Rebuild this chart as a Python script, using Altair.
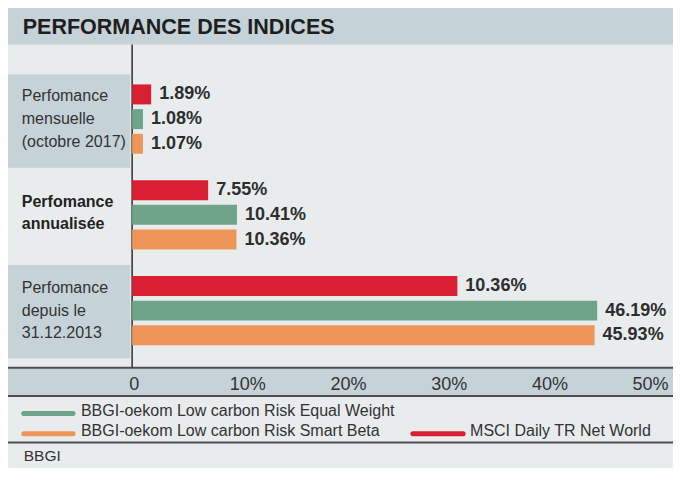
import altair as alt
import pandas as pd

# ---------------- data ----------------
group_keys = ["mensuelle", "annualisee", "depuis"]
group_texts = ["Perfomance\nmensuelle\n(octobre 2017)", "Perfomance\nannualisée", "Perfomance\ndepuis le\n31.12.2013"]
group_bold = [False, True, False]

series = ["MSCI Daily TR Net World",
          "BBGI-oekom Low carbon Risk Equal Weight",
          "BBGI-oekom Low carbon Risk Smart Beta"]
series_colors = ["#d81f33", "#6fa38a", "#ee955a"]

# bar lengths (as drawn) and printed labels
msci_values = [1.89, 7.55, 32.3]
msci_labels = ["1.89%", "7.55%", "10.36%"]
equal_values = [1.08, 10.41, 46.19]
equal_labels = ["1.08%", "10.41%", "46.19%"]
smart_values = [1.07, 10.36, 45.93]
smart_labels = ["1.07%", "10.36%", "45.93%"]

tick_values = [0, 10, 20, 30, 40, 50]
tick_labels = ["0", "10%", "20%", "30%", "40%", "50%"]

title_text = "PERFORMANCE DES INDICES"
source_text = "BBGI"

# ---------------- layout helpers ----------------
W, H = 665, 460
SX = W / 675.0
SY = H / 478.0


def X(r):
    return (r - 6) * SX


def Y(r):
    return (r - 2) * SY


PX_PER_PCT = 10.22
X_DOMAIN = [(6 - 132) / PX_PER_PCT, (681 - 132) / PX_PER_PCT]
xscale = alt.Scale(domain=X_DOMAIN, range=[0, W], nice=False, zero=False)

GROUP_SCALE = dict(domain=group_keys, range=[Y(67.7), Y(366.2)], paddingInner=0.276, paddingOuter=0.138)
OFFSET_SCALE = dict(domain=series, paddingInner=0.191, paddingOuter=0)

BG = "#e8eced"
BAND = "#c5d2d7"
LINE = "#4d4f50"
TXT = "#2e2e2e"
SANS = "Liberation Sans, Arial, sans-serif"
LH = 23.5 * SY

# ---------------- tables ----------------
rows = []
for s, vals, labs in [(series[0], msci_values, msci_labels),
                      (series[1], equal_values, equal_labels),
                      (series[2], smart_values, smart_labels)]:
    for g, v, l in zip(group_keys, vals, labs):
        rows.append({"group": g, "series": s, "value": v, "label": l})
bars_df = pd.DataFrame(rows)
groups_df = pd.DataFrame({"group": group_keys, "text": group_texts, "bold": group_bold})
ticks_df = pd.DataFrame({"tick": tick_values, "label": tick_labels})
one = pd.DataFrame({"k": [0]})

y_group = alt.Y("group:N", scale=alt.Scale(**GROUP_SCALE), axis=None)
y_off = alt.YOffset("series:N", scale=alt.Scale(**OFFSET_SCALE))

# ---------------- layers ----------------
title_band = alt.Chart(one).mark_rect(fill=BAND).encode(
    x=alt.value(0), x2=alt.value(W), y=alt.value(0), y2=alt.value(Y(40)))
title = alt.Chart(one).mark_text(text=title_text, align="left", baseline="alphabetic",
                                 font=SANS, fontWeight="bold", fontSize=21.5, color="#1e1e1e").encode(
    x=alt.value(X(21)), y=alt.value(Y(29.5)))

boxes = alt.Chart(groups_df).transform_filter("datum.group != 'annualisee'").mark_rect(fill=BAND).encode(
    x=alt.value(0), x2=alt.value(X(130)),
    y=alt.Y("group:N", scale=alt.Scale(domain=group_keys, range=[Y(71), Y(366)],
                                       paddingInner=0.02, paddingOuter=0), axis=None))

# three-line labels (normal weight) and two-line label (bold), centred on the group
cat_normal = alt.Chart(groups_df).transform_filter("!datum.bold").mark_text(
    align="left", baseline="middle", lineBreak="\n", lineHeight=LH, dy=-LH, font=SANS,
    fontSize=16, color="#333333").encode(x=alt.value(X(20)), y=y_group, text="text:N")
cat_bold = alt.Chart(groups_df).transform_filter("datum.bold").mark_text(
    align="left", baseline="middle", lineBreak="\n", lineHeight=LH, dy=-LH / 2 - 2, font=SANS,
    fontWeight="bold", fontSize=16, color="#222222").encode(x=alt.value(X(20)), y=y_group, text="text:N")

bars = alt.Chart(bars_df).mark_bar(cornerRadius=0).encode(
    x=alt.X("value:Q", scale=xscale, axis=None),
    y=y_group, yOffset=y_off,
    color=alt.Color("series:N", scale=alt.Scale(domain=series, range=series_colors), legend=None))

values = alt.Chart(bars_df).mark_text(align="left", baseline="middle", dx=8, font=SANS,
                                      fontWeight="bold", fontSize=18, color=TXT).encode(
    x=alt.X("value:Q", scale=xscale, axis=None), y=y_group, yOffset=y_off, text="label:N")

axis_line = alt.Chart(one).mark_rule(stroke="#2f2f2f", strokeWidth=1.5).encode(
    x=alt.X(datum=0, type="quantitative", scale=xscale, axis=None),
    y=alt.value(Y(40)), y2=alt.value(Y(375.5)))

axis_band = alt.Chart(one).mark_rect(fill=BAND).encode(
    x=alt.value(0), x2=alt.value(W), y=alt.value(Y(376)), y2=alt.value(Y(405)))
hlines = []
for ry in [375.8, 405.3, 453.5]:
    hlines.append(alt.Chart(one).mark_rule(stroke=LINE, strokeWidth=2).encode(
        x=alt.value(0), x2=alt.value(W), y=alt.value(Y(ry))))

ticks = alt.Chart(ticks_df).mark_text(align="left", baseline="alphabetic", dx=-3, font=SANS,
                                      fontSize=18, color="#333333").encode(
    x=alt.X("tick:Q", scale=xscale, axis=None), y=alt.value(Y(399)), text="label:N")

# legend (manual, two rows like the original)
legend_layers = []
legend_pos = [  # (series index, swatch x0, swatch x1, swatch y, text x, text baseline)
    (1, 22, 72, 423.3, 80, 425.8),
    (2, 22, 72, 444.3, 80, 446.3),
    (0, 417, 468, 444.3, 475, 446.3),
]
for idx, sx0, sx1, sy, tx, ty in legend_pos:
    legend_layers.append(alt.Chart(one).mark_rule(stroke=series_colors[idx], strokeWidth=5, strokeCap="round").encode(
        x=alt.value(X(sx0)), x2=alt.value(X(sx1)), y=alt.value(Y(sy))))
    legend_layers.append(alt.Chart(one).mark_text(text=series[idx], align="left", baseline="alphabetic",
                                                  font=SANS, fontSize=16, color="#333333").encode(
        x=alt.value(X(tx)), y=alt.value(Y(ty))))

source = alt.Chart(one).mark_text(text=source_text, align="left", baseline="alphabetic",
                                  font=SANS, fontSize=15.5, color="#333333").encode(
    x=alt.value(X(22)), y=alt.value(Y(473)))

chart = alt.layer(
    title_band, title, boxes, axis_band, *hlines, axis_line,
    bars, values, cat_normal, cat_bold, ticks, *legend_layers, source
).resolve_scale(y="independent").properties(
    width=W, height=H, autosize=alt.AutoSizeParams(type="none"), padding=0, background=BG
).configure_view(strokeWidth=0)

chart.save("out.html", embed_options={"renderer": "svg", "actions": False})
